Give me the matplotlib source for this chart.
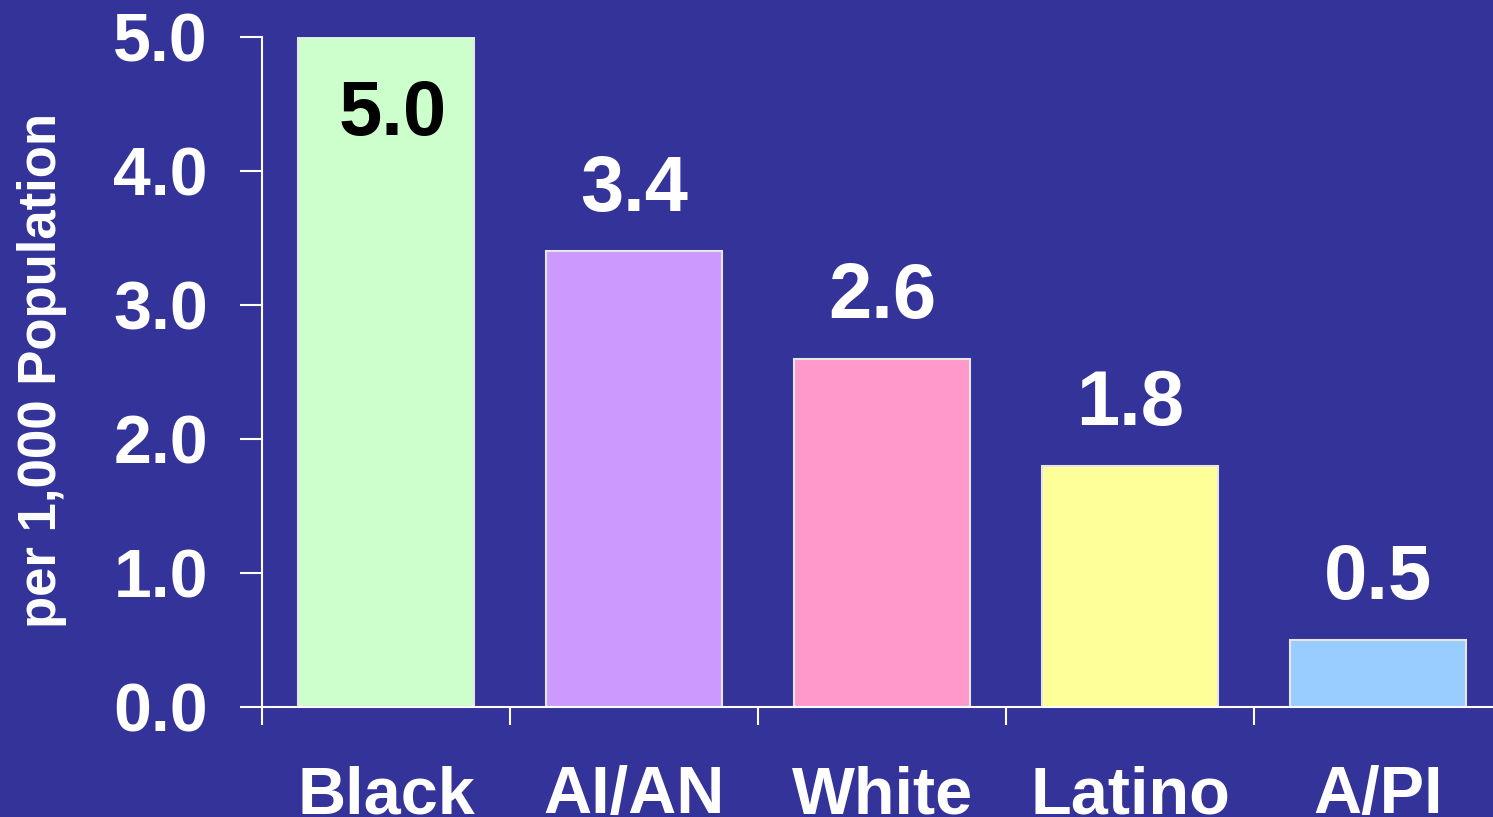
import matplotlib
matplotlib.use("Agg")
import matplotlib.pyplot as plt
from matplotlib.ticker import FixedLocator, FormatStrFormatter

categories = ["Black", "AI/AN", "White", "Latino", "A/PI"]
values = [5.0, 3.4, 2.6, 1.8, 0.5]
value_labels = ["5.0", "3.4", "2.6", "1.8", "0.5"]
bar_colors = ["#CCFFCC", "#CC99FF", "#FF99CC", "#FFFF99", "#99CCFF"]
y_ticks = [0, 1, 2, 3, 4, 5]
y_label = "per 1,000 Population"

BG = "#333399"
plt.rcParams["font.family"] = ["Liberation Sans", "DejaVu Sans"]
plt.rcParams["font.weight"] = "bold"

fig = plt.figure(figsize=(14.93, 8.17), dpi=100, facecolor=BG)
ax = fig.add_axes([262 / 1493, 1 - 707 / 817, 1240 / 1493, 670 / 817])
ax.set_facecolor(BG)

x = list(range(len(categories)))
bars = ax.bar(x, values, width=0.71, color=bar_colors, edgecolor="#E6E6E6",
              linewidth=1.5, zorder=2)

ax.set_xlim(-0.5, len(categories) - 0.5)
ax.set_ylim(0, 5)

for sp in ["top", "right"]:
    ax.spines[sp].set_visible(False)
for sp in ["left", "bottom"]:
    ax.spines[sp].set_color("white")
    ax.spines[sp].set_linewidth(1.5)
    ax.spines[sp].set_zorder(3)

# y axis
ax.yaxis.set_major_locator(FixedLocator(y_ticks))
ax.yaxis.set_major_formatter(FormatStrFormatter("%.1f"))
ax.tick_params(axis="y", which="major", direction="out", length=16, width=1.5,
               color="white", labelcolor="white", labelsize=49, pad=23)

# x axis: tick marks at category boundaries, labels at centers
ax.xaxis.set_major_locator(FixedLocator([i - 0.5 for i in range(len(categories) + 1)]))
ax.xaxis.set_major_formatter(plt.NullFormatter())
ax.xaxis.set_minor_locator(FixedLocator(x))
ax.set_xticks(x, categories, minor=True)
ax.tick_params(axis="x", which="major", direction="out", length=13, width=1.5,
               color="white")
ax.tick_params(axis="x", which="minor", length=0, labelcolor="white",
               labelsize=48, pad=42)

ax.set_ylabel(y_label, color="white", fontsize=38, fontweight="bold")
ax.yaxis.set_label_coords(-0.157, 0.503)

# value labels
for i, (v, lab) in enumerate(zip(values, value_labels)):
    if v >= 4.5:
        ax.annotate(lab, (i, v), xytext=(5, -56), textcoords="offset points",
                    ha="center", va="center", fontsize=56, fontweight="bold",
                    color="black", zorder=4)
    else:
        ax.annotate(lab, (i, v), xytext=(0, 44), textcoords="offset points",
                    ha="center", va="center", fontsize=56, fontweight="bold",
                    color="white", zorder=4)

fig.savefig("out.png", dpi=100, facecolor=BG)
